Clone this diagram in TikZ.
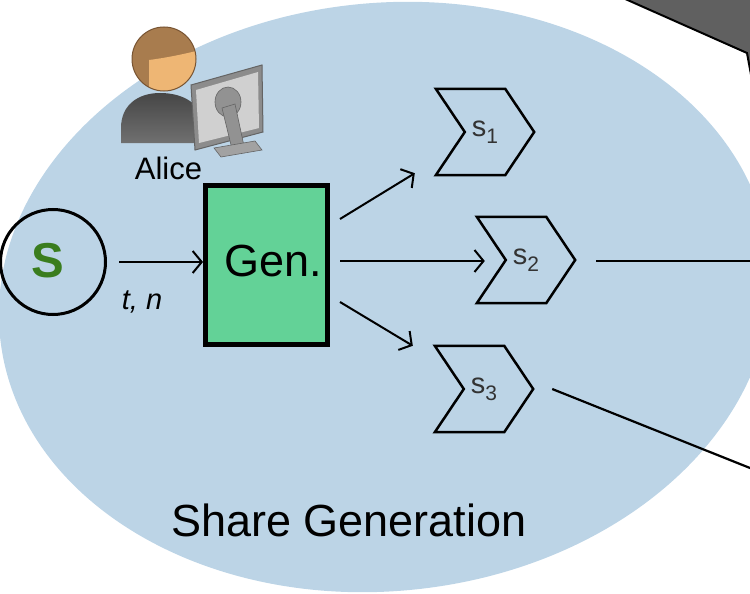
\documentclass[tikz,border=0pt]{standalone}
\usepackage{fontspec}
\setmainfont{Liberation Sans}
\usetikzlibrary{arrows.meta}

\definecolor{shareblue}{RGB}{188,212,230}
\definecolor{gengreen}{RGB}{99,210,151}
\definecolor{secgreen}{RGB}{58,125,30}
\definecolor{slate}{RGB}{96,96,96}
\definecolor{hair}{RGB}{168,124,78}
\definecolor{hairline}{RGB}{120,84,50}
\definecolor{skin}{RGB}{238,182,116}
\definecolor{coatdark}{RGB}{70,70,70}
\definecolor{coatlight}{RGB}{112,112,112}
\definecolor{frame}{RGB}{140,140,140}
\definecolor{panel}{RGB}{208,208,208}
\definecolor{stand}{RGB}{146,146,146}
\definecolor{edgegray}{RGB}{100,100,100}

\tikzset{
  arr/.style={line width=2pt, -{Straight Barb[length=9pt,width=22pt,line width=2pt]}},
  conn/.style={line width=2.2pt},
  chevline/.style={line width=2.5pt, line join=miter},
  chevnode/.style={minimum width=98pt, minimum height=86pt, inner sep=0pt, text=black!80},
  genbox/.style={draw, line width=5pt, fill=gengreen, minimum width=122pt, minimum height=159pt, inner sep=0pt},
  secnode/.style={circle, draw, line width=3pt, minimum size=105pt, inner sep=0pt},
}

% chevron outline around a named share node
\newcommand{\chevronout}[1]{%
  \draw[chevline] (#1.north west) -- ([xshift=-29pt]#1.north east) -- (#1.east)
    -- ([xshift=-29pt]#1.south east) -- (#1.south west) -- ([xshift=29pt]#1.west) -- cycle;}
\newcommand{\sharetext}[1]{{\fontsize{29}{29}\selectfont s\raisebox{-7pt}{\fontsize{21}{21}\selectfont #1}}}

\begin{document}
\begin{tikzpicture}[x=1pt,y=-1pt]
\useasboundingbox (0,0) rectangle (750,594);
\clip (0,0) rectangle (750,594);

% share generation region
\fill[shareblue, rotate around={6:(385,297)}] (385,297) ellipse [x radius=387, y radius=294];

% dark block at the top right
\fill[slate] (614,-6) -- (747,53) -- (752,80) -- (770,80) -- (770,-6) -- cycle;
\draw[line width=2pt] (614,-6) -- (747,53) -- (752,80);

% Alice: body
\shade[top color=coatdark, bottom color=coatlight]
  (121,143) -- (121,128) .. controls (121,105) and (138,93) .. (160,93)
  .. controls (185,93) and (203,105) .. (205,128) -- (205,143) -- cycle;
% Alice: head
\fill[hair] (164,59) circle [radius=32];
\begin{scope}
  \clip (164,59) circle [radius=32];
  \fill[skin] (149,60) -- (149,86) .. controls (149,94) and (155,97) .. (164,97)
    -- (200,97) -- (200,50) .. controls (185,54) and (165,58) .. (149,60) -- cycle;
\end{scope}
\draw[hairline, line width=1pt] (164,59) circle [radius=32];
% Alice: monitor seen from the back
\filldraw[fill=frame, draw=edgegray, line width=1pt] (191,85) -- (262,65) -- (263,132) -- (195,150) -- cycle;
\fill[panel] (196,90) -- (258,72) -- (259,128) -- (199,143) -- cycle;
\filldraw[fill=stand, draw=edgegray, line width=0.6pt] (228,102) ellipse [x radius=13, y radius=15];
\filldraw[fill=stand, draw=edgegray, line width=0.6pt] (222,108) -- (235,104) -- (244,146) -- (232,149) -- cycle;
\filldraw[fill=stand!85!white, draw=edgegray, line width=0.6pt] (214,148) -- (255,141) -- (262,150) -- (221,157) -- cycle;
\node[anchor=base, inner sep=0pt] (alice) at (168.5,179) {\fontsize{31}{31}\selectfont Alice};

% secret
\node[secnode] (sec) at (53,262) {};
\node[inner sep=0pt] (sectext) at (48,261) {\fontsize{49}{49}\selectfont\bfseries\color{secgreen}S};

% generator
\node[genbox] (gen) at (266.5,265) {};
\node[anchor=base, inner sep=0pt] (gentext) at (273.5,276) {\fontsize{45}{45}\selectfont Gen.};

% shares
\node[chevnode] (s1) at (485,132) {\sharetext{1}};
\node[chevnode] (s2) at (526,260) {\sharetext{2}};
\node[chevnode] (s3) at (484,389) {\sharetext{3}};
\chevronout{s1}
\chevronout{s2}
\chevronout{s3}

% connectors
\draw[arr, shorten <=12pt] (sec.east) -- (sec.east -| gen.west);
\node[anchor=base, inner sep=0pt] (tn) at (142,309) {\fontsize{29}{29}\selectfont\itshape t, n};

\draw[arr] ([shift={(10,-46)}]gen.east) -- ([shift={(-21,-2)}]s1.south west);
\draw[arr] ([shift={(10,-4)}]gen.east) -- ([shift={(8,1)}]s2.west);
\draw[arr] ([shift={(10,37)}]gen.east) -- ([shift={(-22,0)}]s3.north west);

\coordinate (out2) at (770,261);
\coordinate (out3) at (770,476);
\draw[conn] ([shift={(21,1)}]s2.east) -- (out2);
\draw[conn] ([xshift=19pt]s3.east) -- (out3);

% caption
\node[anchor=base, inner sep=0pt] (caption) at (349,536) {\fontsize{45}{45}\selectfont Share Generation};
\end{tikzpicture}
\end{document}
